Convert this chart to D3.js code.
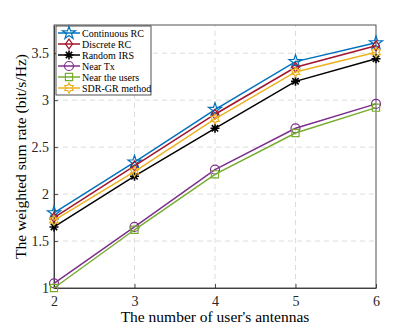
<!DOCTYPE html>
<html><head><meta charset="utf-8">
<script src="https://cdn.jsdelivr.net/npm/d3@7/dist/d3.min.js"></script>
<style>body{margin:0;background:#fff;} svg{display:block;font-family:"Liberation Serif","Times New Roman",serif;}</style>
</head><body>
<script>
const antennas = [2, 3, 4, 5, 6];
const continuousRC = [1.80, 2.34, 2.90, 3.41, 3.61];
const discreteRC = [1.75, 2.30, 2.85, 3.35, 3.58];
const randomIRS = [1.65, 2.19, 2.70, 3.20, 3.44];
const nearTx = [1.05, 1.65, 2.26, 2.70, 2.96];
const nearUsers = [1.00, 1.62, 2.21, 2.65, 2.92];
const sdrGR = [1.72, 2.24, 2.80, 3.30, 3.51];
const xTicks = [2, 3, 4, 5, 6];
const yTicks = [1, 1.5, 2, 2.5, 3, 3.5];
const seriesNames = ["Continuous RC", "Discrete RC", "Random IRS", "Near Tx", "Near the users", "SDR-GR method"];

const series = [
  {name: seriesNames[0], values: continuousRC, color: "#0072BD", marker: "star"},
  {name: seriesNames[1], values: discreteRC, color: "#A2142F", marker: "diamond"},
  {name: seriesNames[2], values: randomIRS, color: "#000000", marker: "asterisk"},
  {name: seriesNames[3], values: nearTx, color: "#7E2F8E", marker: "circle"},
  {name: seriesNames[4], values: nearUsers, color: "#77AC30", marker: "square"},
  {name: seriesNames[5], values: sdrGR, color: "#EDB120", marker: "hexagram"}
];

const W = 415, H = 327;
const m = {left: 54, right: 39, top: 25, bottom: 39};
const svg = d3.select("body").append("svg").attr("width", W).attr("height", H);
const x = d3.scaleLinear().domain([2, 6]).range([m.left, W - m.right]);
const y = d3.scaleLinear().domain([1, 3.8]).range([H - m.bottom, m.top]);

// grid
const g = svg.append("g");
g.selectAll("line.gx").data(xTicks.slice(1, -1)).enter().append("line")
  .attr("x1", d => x(d)).attr("x2", d => x(d)).attr("y1", y(1)).attr("y2", y(3.8))
  .attr("stroke", "#dcdcdc").attr("stroke-width", 1).attr("stroke-dasharray", "5,4");
g.selectAll("line.gy").data(yTicks.slice(1)).enter().append("line")
  .attr("y1", d => y(d)).attr("y2", d => y(d)).attr("x1", x(2)).attr("x2", x(6))
  .attr("stroke", "#dcdcdc").attr("stroke-width", 1).attr("stroke-dasharray", "5,4");

// frame
svg.append("rect").attr("x", x(2)).attr("y", y(3.8)).attr("width", x(6) - x(2)).attr("height", y(1) - y(3.8))
  .attr("fill", "none").attr("stroke", "#262626").attr("stroke-width", 0.8);

// axes
const xAxis = svg.append("g").attr("transform", `translate(0,${y(1)})`)
  .call(d3.axisBottom(x).tickValues(xTicks).tickFormat(d3.format("d")).tickSizeInner(-4).tickSizeOuter(0).tickPadding(8));
const yAxis = svg.append("g").attr("transform", `translate(${x(2)},0)`)
  .call(d3.axisLeft(y).tickValues(yTicks).tickFormat(d => d).tickSizeInner(-4).tickSizeOuter(0).tickPadding(5));
[xAxis, yAxis].forEach(a => {
  a.select(".domain").attr("stroke", "#262626").attr("stroke-width", 0.8);
  a.selectAll(".tick line").attr("stroke", "#262626").attr("stroke-width", 0.8);
  a.selectAll("text").attr("font-family", "Liberation Serif, Times New Roman, serif").attr("font-size", 14).attr("fill", "#262626");
});

function markerPath(type, s) {
  if (type === "star") return d3.symbol(d3.symbolStar, s * s * 0.65)();
  if (type === "diamond") {
    const r = s * 0.55;
    return `M0,${-r}L${r * 0.7},0L0,${r}L${-r * 0.7},0Z`;
  }
  if (type === "circle") { const r = s * 0.5; return `M${r},0A${r},${r} 0 1,1 ${-r},0A${r},${r} 0 1,1 ${r},0Z`; }
  if (type === "square") { const r = s * 0.4; return `M${-r},${-r}H${r}V${r}H${-r}Z`; }
  if (type === "asterisk") {
    const r = s * 0.5; let p = "";
    for (let i = 0; i < 4; i++) { const a = i * Math.PI / 4; p += `M${r * Math.cos(a)},${r * Math.sin(a)}L${-r * Math.cos(a)},${-r * Math.sin(a)}`; }
    return p;
  }
  if (type === "hexagram") {
    const R = s * 0.55, r = R * 0.58; let p = "";
    for (let i = 0; i < 12; i++) { const a = -Math.PI / 2 + i * Math.PI / 6; const rr = i % 2 === 0 ? R : r; p += (i === 0 ? "M" : "L") + (rr * Math.cos(a)) + "," + (rr * Math.sin(a)); }
    return p + "Z";
  }
}

const MS = 9;
const line = d3.line().x((d, i) => x(antennas[i])).y(d => y(d));
series.forEach(s => {
  svg.append("path").datum(s.values).attr("d", line).attr("fill", "none").attr("stroke", s.color).attr("stroke-width", 1.5);
  svg.selectAll(null).data(s.values).enter().append("path")
    .attr("transform", (d, i) => `translate(${x(antennas[i])},${y(d)})`)
    .attr("d", markerPath(s.marker, MS))
    .attr("fill", "none").attr("stroke", s.color).attr("stroke-width", s.marker === "asterisk" ? 1.6 : 1.2);
});

// legend
const lg = svg.append("g");
const lx = 56, ly = 26, lw = 95, rowH = 11;
lg.append("rect").attr("x", lx).attr("y", ly).attr("width", lw).attr("height", rowH * 6 + 3)
  .attr("fill", "#fff").attr("stroke", "#262626").attr("stroke-width", 0.8);
series.forEach((s, i) => {
  const cy = ly + 7 + i * rowH;
  lg.append("line").attr("x1", lx + 2).attr("x2", lx + 24).attr("y1", cy).attr("y2", cy).attr("stroke", s.color).attr("stroke-width", 1.5);
  lg.append("path").attr("transform", `translate(${lx + 13},${cy})`).attr("d", markerPath(s.marker, MS))
    .attr("fill", "none").attr("stroke", s.color).attr("stroke-width", s.marker === "asterisk" ? 1.6 : 1.2);
  lg.append("text").attr("x", lx + 26).attr("y", cy + 3.5).attr("font-size", 10).attr("fill", "#000").text(s.name);
});

// axis labels
svg.append("text").attr("x", (x(2) + x(6)) / 2).attr("y", 322).attr("text-anchor", "middle")
  .attr("font-size", 15.5).attr("fill", "#000").text("The number of user's antennas");
svg.append("text").attr("transform", `translate(26,${(y(1) + y(3.8)) / 2}) rotate(-90)`).attr("text-anchor", "middle")
  .attr("font-size", 15.5).attr("fill", "#000").text("The weighted sum rate (bit/s/Hz)");
</script>
</body></html>
